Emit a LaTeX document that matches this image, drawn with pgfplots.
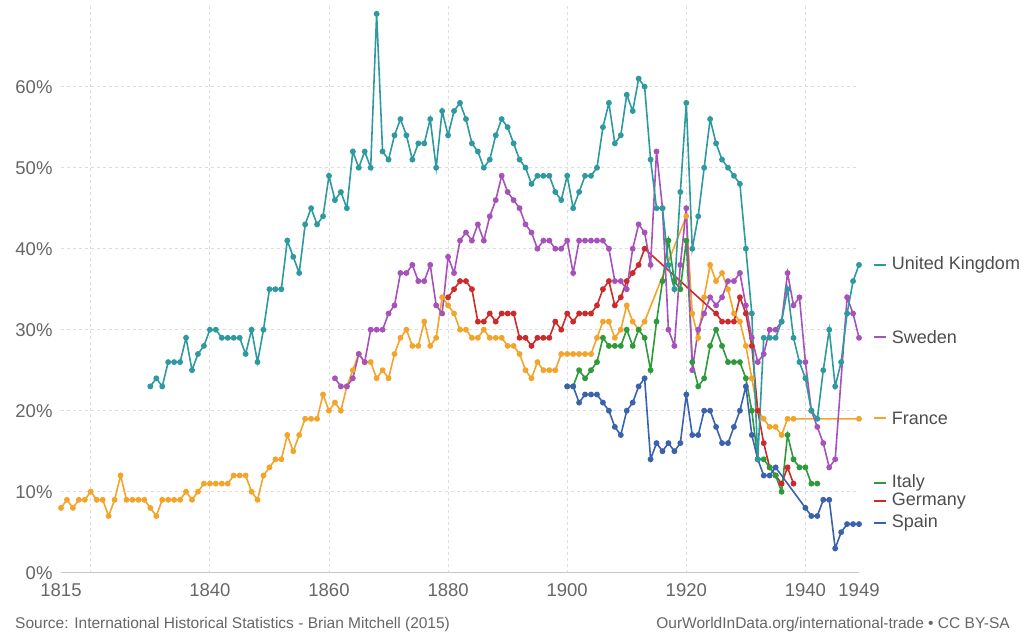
\documentclass[border=0pt]{standalone}
\usepackage{pgfplots}
\pgfplotsset{compat=1.18}
\usepackage{fontspec}
\setmainfont{Liberation Sans}
\definecolor{cUK}{HTML}{2E9AA0}
\definecolor{cSE}{HTML}{A652BA}
\definecolor{cFR}{HTML}{F2A52A}
\definecolor{cIT}{HTML}{2F9A3B}
\definecolor{cDE}{HTML}{CC2B2B}
\definecolor{cES}{HTML}{3A62AD}
\definecolor{tickgray}{HTML}{666666}
\definecolor{labgray}{HTML}{4D4D4D}
\begin{document}
\begin{tikzpicture}[x=1pt,y=1pt]
\useasboundingbox (0,0) rectangle (1024,638);
\begin{axis}[
  at={(61pt,65.3pt)}, anchor=south west,
  scale only axis, width=798pt, height=567pt,
  xmin=1815, xmax=1949, ymin=0, ymax=70,
  clip=false,
  axis x line*=bottom, axis y line*=left,
  y axis line style={draw=none},
  x axis line style={draw=black!22, line width=1pt, -},
  major tick length=0pt,
  xtick={1820,1840,1860,1880,1900,1920,1940},
  xticklabels={,1840,1860,1880,1900,1920,1940},
  extra x ticks={1815,1949},
  extra x tick labels={1815,1949},
  extra x tick style={grid=none},
  ytick={0,10,20,30,40,50,60},
  yticklabels={0\%,10\%,20\%,30\%,40\%,50\%,60\%},
  grid=major,
  major grid style={dash pattern=on 3pt off 3pt, draw=black!13, line width=0.8pt},
  tick label style={font=\fontsize{18.5}{20}\selectfont, text=tickgray},
  xticklabel style={yshift=-7pt},
  yticklabel style={xshift=-5pt},
  every axis plot/.append style={line width=1.6pt, mark=*, mark size=2.1pt},
]
% France
\addplot[cFR, mark options={fill=cFR, draw=cFR}] coordinates {
(1815,8)(1816,9)(1817,8)(1818,9)(1819,9)(1820,10)(1821,9)(1822,9)(1823,7)(1824,9)
(1825,12)(1826,9)(1827,9)(1828,9)(1829,9)(1830,8)(1831,7)(1832,9)(1833,9)(1834,9)
(1835,9)(1836,10)(1837,9)(1838,10)(1839,11)(1840,11)(1841,11)(1842,11)(1843,11)(1844,12)
(1845,12)(1846,12)(1847,10)(1848,9)(1849,12)(1850,13)(1851,14)(1852,14)(1853,17)(1854,15)
(1855,17)(1856,19)(1857,19)(1858,19)(1859,22)(1860,20)(1861,21)(1862,20)(1863,23)(1864,25)
(1865,27)(1866,26)(1867,26)(1868,24)(1869,25)(1870,24)(1871,27)(1872,29)(1873,30)(1874,28)
(1875,28)(1876,31)(1877,28)(1878,29)(1879,34)(1880,33)(1881,32)(1882,30)(1883,30)(1884,29)
(1885,29)(1886,30)(1887,29)(1888,29)(1889,29)(1890,28)(1891,28)(1892,27)(1893,25)(1894,24)
(1895,26)(1896,25)(1897,25)(1898,25)(1899,27)(1900,27)(1901,27)(1902,27)(1903,27)(1904,27)
(1905,29)(1906,31)(1907,31)(1908,29)(1909,30)(1910,33)(1911,31)(1912,30)(1913,31)(1920,44)
(1921,32)(1922,29)(1923,34)(1924,38)(1925,36)(1926,37)(1927,35)(1928,32)(1929,31)(1930,28)
(1931,24)(1932,20)(1933,19)(1934,18)(1935,18)(1936,17)(1937,19)(1938,19)(1949,19)
};
% Germany
\addplot[cDE, mark options={fill=cDE, draw=cDE}] coordinates {
(1880,34)(1881,35)(1882,36)(1883,36)(1884,35)(1885,31)(1886,31)(1887,32)(1888,31)(1889,32)
(1890,32)(1891,32)(1892,29)(1893,29)(1894,28)(1895,29)(1896,29)(1897,29)(1898,31)(1899,30)
(1900,32)(1901,31)(1902,32)(1903,32)(1904,32)(1905,33)(1906,35)(1907,36)(1908,33)(1909,34)
(1910,36)(1911,37)(1912,38)(1913,40)(1925,32)(1926,31)(1927,31)(1928,31)(1929,34)(1930,32)
(1931,28)(1932,20)(1933,16)(1934,13)(1935,12)(1936,11)(1937,13)(1938,11)
};
% Italy
\addplot[cIT, mark options={fill=cIT, draw=cIT}] coordinates {
(1900,23)(1901,23)(1902,25)(1903,24)(1904,25)(1905,26)(1906,29)(1907,28)(1908,28)(1909,28)
(1910,30)(1911,28)(1912,30)(1913,29)(1914,25)(1915,31)(1916,36)(1917,41)(1918,36)(1919,35)
(1920,41)(1921,26)(1922,23)(1923,24)(1924,28)(1925,30)(1926,28)(1927,26)(1928,26)(1929,26)
(1930,24)(1931,20)(1932,14)(1933,14)(1934,13)(1935,12)(1936,10)(1937,17)(1938,14)(1939,13)
(1940,13)(1941,11)(1942,11)
};
% Spain
\addplot[cES, mark options={fill=cES, draw=cES}] coordinates {
(1900,23)(1901,23)(1902,21)(1903,22)(1904,22)(1905,22)(1906,21)(1907,20)(1908,18)(1909,17)
(1910,20)(1911,21)(1912,23)(1913,24)(1914,14)(1915,16)(1916,15)(1917,16)(1918,15)(1919,16)
(1920,22)(1921,17)(1922,17)(1923,20)(1924,20)(1925,18)(1926,16)(1927,16)(1928,18)(1929,20)
(1930,23)(1931,17)(1932,14)(1933,12)(1934,12)(1935,13)(1940,8)(1941,7)(1942,7)(1943,9)
(1944,9)(1945,3)(1946,5)(1947,6)(1948,6)(1949,6)
};
% Sweden
\addplot[cSE, mark options={fill=cSE, draw=cSE}] coordinates {
(1861,24)(1862,23)(1863,23)(1864,24)(1865,27)(1866,26)(1867,30)(1868,30)(1869,30)(1870,32)
(1871,33)(1872,37)(1873,37)(1874,38)(1875,36)(1876,36)(1877,38)(1878,33)(1879,32)(1880,39)
(1881,37)(1882,41)(1883,42)(1884,41)(1885,43)(1886,41)(1887,44)(1888,46)(1889,49)(1890,47)
(1891,46)(1892,45)(1893,43)(1894,42)(1895,40)(1896,41)(1897,41)(1898,40)(1899,40)(1900,41)
(1901,37)(1902,41)(1903,41)(1904,41)(1905,41)(1906,41)(1907,40)(1908,36)(1909,36)(1910,35)
(1911,40)(1912,43)(1913,42)(1914,38)(1915,52)(1916,45)(1917,30)(1918,28)(1919,38)(1920,45)
(1921,25)(1922,30)(1923,32)(1924,34)(1925,33)(1926,34)(1927,36)(1928,36)(1929,37)(1930,33)
(1931,29)(1932,26)(1933,27)(1934,30)(1935,30)(1936,31)(1937,37)(1938,33)(1939,34)(1940,26)
(1941,20)(1942,18)(1943,16)(1944,13)(1945,14)(1947,34)(1948,32)(1949,29)
};
% United Kingdom
\addplot[cUK, mark options={fill=cUK, draw=cUK}] coordinates {
(1830,23)(1831,24)(1832,23)(1833,26)(1834,26)(1835,26)(1836,29)(1837,25)(1838,27)(1839,28)
(1840,30)(1841,30)(1842,29)(1843,29)(1844,29)(1845,29)(1846,27)(1847,30)(1848,26)(1849,30)
(1850,35)(1851,35)(1852,35)(1853,41)(1854,39)(1855,37)(1856,43)(1857,45)(1858,43)(1859,44)
(1860,49)(1861,46)(1862,47)(1863,45)(1864,52)(1865,50)(1866,52)(1867,50)(1868,69)(1869,52)
(1870,51)(1871,54)(1872,56)(1873,54)(1874,51)(1875,53)(1876,53)(1877,56)(1878,50)(1879,57)
(1880,54)(1881,57)(1882,58)(1883,56)(1884,53)(1885,52)(1886,50)(1887,51)(1888,54)(1889,56)
(1890,55)(1891,53)(1892,51)(1893,50)(1894,48)(1895,49)(1896,49)(1897,49)(1898,47)(1899,46)
(1900,49)(1901,45)(1902,47)(1903,49)(1904,49)(1905,50)(1906,55)(1907,58)(1908,53)(1909,54)
(1910,59)(1911,57)(1912,61)(1913,60)(1914,51)(1915,45)(1916,45)(1917,38)(1918,35)(1919,47)
(1920,58)(1921,40)(1922,44)(1923,50)(1924,56)(1925,53)(1926,51)(1927,50)(1928,49)(1929,48)
(1930,40)(1931,32)(1932,14)(1933,29)(1934,29)(1935,29)(1936,31)(1937,35)(1938,29)(1939,26)
(1940,24)(1941,20)(1942,19)(1943,25)(1944,30)(1945,23)(1946,26)(1947,32)(1948,36)(1949,38)
};
% right-hand labels
\foreach \v/\c/\t in {38.0/cUK/United Kingdom, 29.1/cSE/Sweden, 19.1/cFR/France, 11.1/cIT/Italy, 8.85/cDE/Germany, 6.15/cES/Spain}{
  \edef\temp{\noexpand\draw[\c, line width=2pt] (axis cs:1951.5,\v) -- (axis cs:1953.5,\v);
  \noexpand\node[anchor=west, inner sep=0pt, text=labgray, font=\noexpand\fontsize{18}{20}\noexpand\selectfont] at (axis cs:1954.5,\v) {\t};}
  \temp
}
\end{axis}
\node[anchor=base west, inner sep=0pt, text=tickgray, font=\fontsize{15.5}{17}\selectfont] at (15,10) {Source: International Historical Statistics - Brian Mitchell (2015)};
\node[anchor=base east, inner sep=0pt, text=tickgray, font=\fontsize{15.5}{17}\selectfont] at (1010,10) {OurWorldInData.org/international-trade • CC BY-SA};
\end{tikzpicture}
\end{document}
